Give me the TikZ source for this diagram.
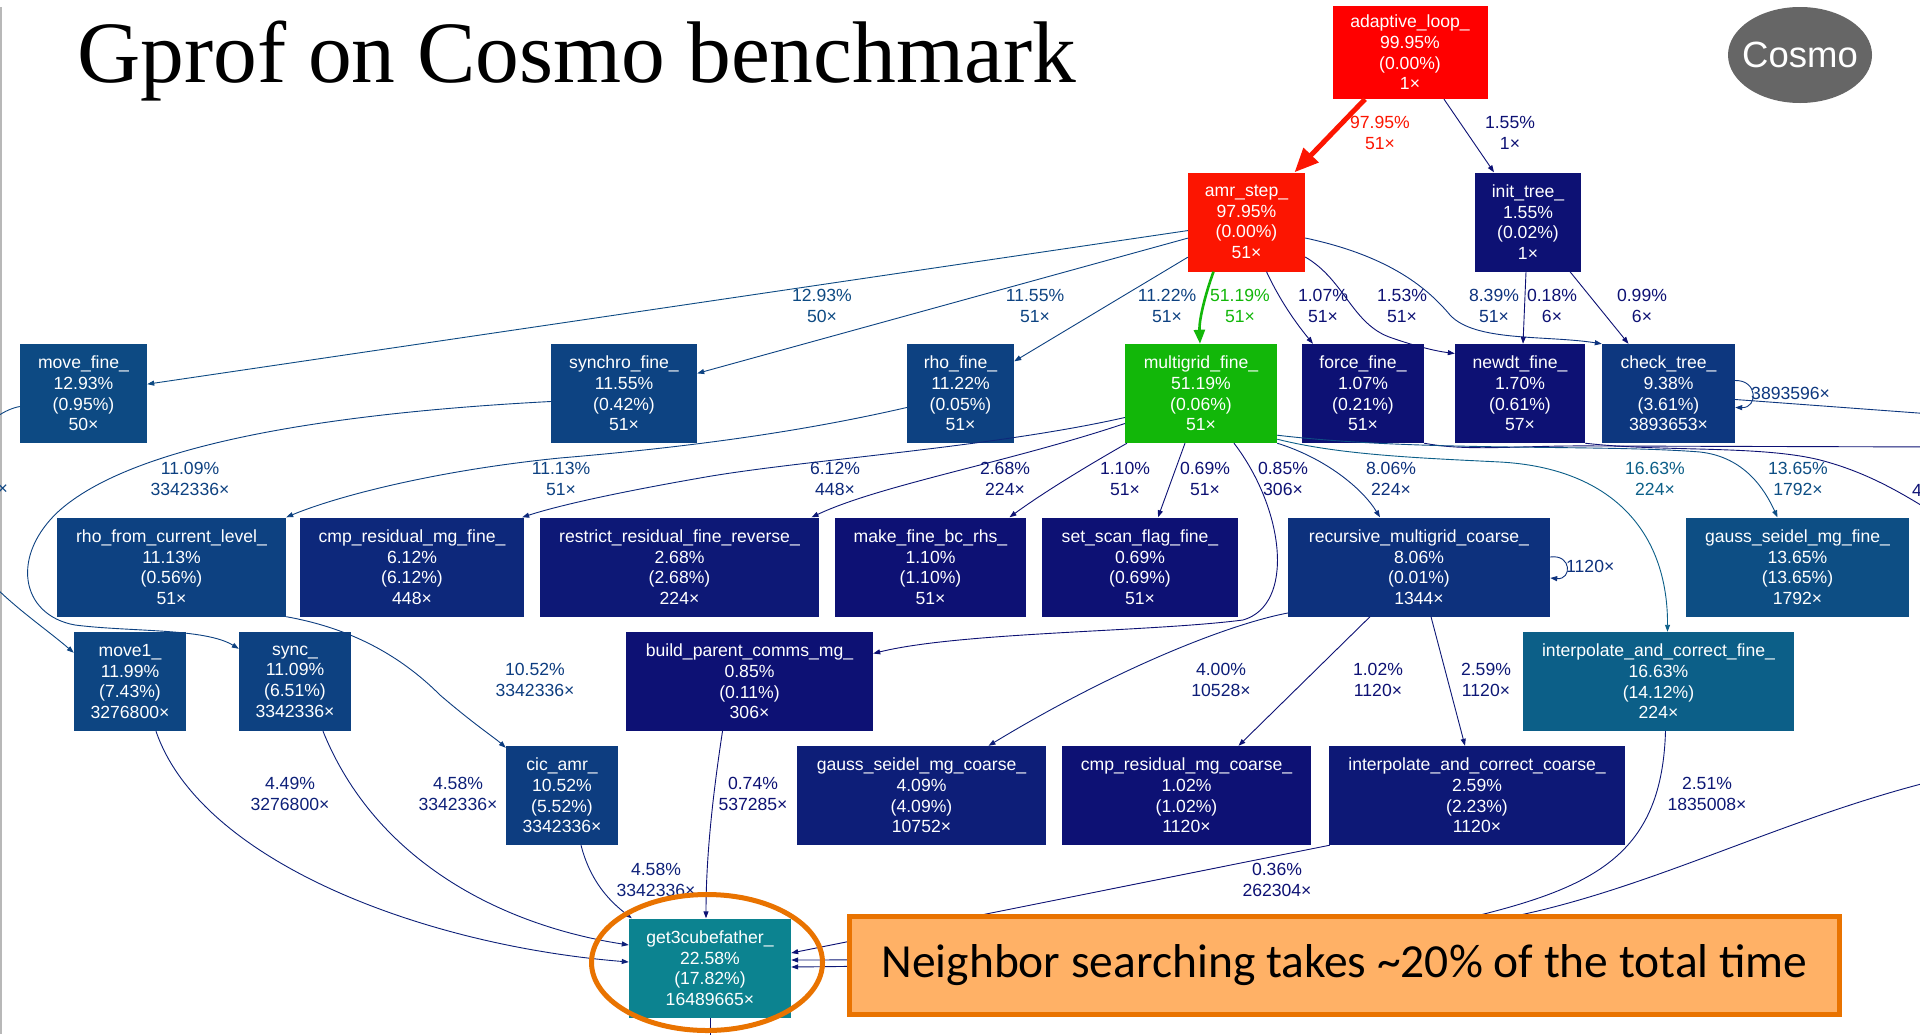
\documentclass[tikz,border=0pt]{standalone}
\usepackage{fontspec}
\setmainfont{Liberation Serif}
\newfontfamily\gvfamily{Liberation Sans}
\newfontfamily\calfamily{Carlito}
\usetikzlibrary{arrows.meta}

\definecolor{cRed}{HTML}{FF0000}
\definecolor{cAmr}{HTML}{FC1501}
\definecolor{cGreen}{HTML}{12B709}
\definecolor{cTeal}{HTML}{0C8390}
\definecolor{cIF}{HTML}{0C5F88}
\definecolor{cGS}{HTML}{0D4E84}
\definecolor{cMF}{HTML}{0D4A83}
\definecolor{cMA}{HTML}{0D4582}
\definecolor{cSF}{HTML}{0D4382}
\definecolor{cRF}{HTML}{0D4181}
\definecolor{cCic}{HTML}{0D3D80}
\definecolor{cCT}{HTML}{0D377F}
\definecolor{cCE}{HTML}{0D337E}
\definecolor{cRec}{HTML}{0D317D}
\definecolor{cCmp}{HTML}{0D287B}
\definecolor{cCF}{HTML}{0D2079}
\definecolor{cCG}{HTML}{0D1E78}
\definecolor{cCH}{HTML}{0D1876}
\definecolor{cLow}{HTML}{0D1174}
\definecolor{orFill}{HTML}{FFB166}
\definecolor{orLine}{HTML}{E97300}
\definecolor{cosmoGray}{HTML}{666666}

\newcommand{\gvfont}{\gvfamily\fontsize{17.6}{20.6}\selectfont}

\begin{document}
\begin{tikzpicture}[x=1pt,y=-1pt,
  fn/.style={rectangle,inner sep=0,minimum height=99,text=white,font=\gvfont,align=center},
  lbl/.style={inner sep=0,font=\gvfont,align=center},
  ln/.style={line width=0.9},
  e/.style={ln,-{Triangle[length=7pt,width=5pt]}},
  hot/.style={line width=5,-{Triangle[length=24pt,width=20pt]}},
  warm/.style={line width=2.6,-{Triangle[length=14pt,width=11pt]}}]
\useasboundingbox (0,0) rectangle (1920,1034);
\fill[white] (0,0) rectangle (1920,1034);
\clip (0,0) rectangle (1920,1034);
\draw[black!28,line width=1.5] (1,7) -- (1,1034);

\node[anchor=base west,inner sep=0,font=\fontsize{87.5}{90}\selectfont] (title) at (77,82) {Gprof on Cosmo benchmark};
\fill[cosmoGray] (1800,55) ellipse [x radius=72,y radius=48];
\node[inner sep=0,text=white,font=\gvfamily\fontsize{36.5}{40}\selectfont] (cosmo) at (1800,55) {Cosmo};

\node[fn,fill=cRed,minimum width=155,minimum height=93] (adaptive) at (1410,52.5) {adaptive\_loop\_\\99.95\%\\(0.00\%)\\1×};
\node[fn,fill=cAmr,minimum width=117] (amr) at (1246.5,222) {amr\_step\_\\97.95\%\\(0.00\%)\\51×};
\node[fn,fill=cLow,minimum width=106] (init) at (1528,222) {init\_tree\_\\1.55\%\\(0.02\%)\\1×};

\node[fn,fill=cMF,minimum width=127] (movefine) at (83.5,393.5) {move\_fine\_\\12.93\%\\(0.95\%)\\50×};
\node[fn,fill=cSF,minimum width=146] (synchro) at (624,393.5) {synchro\_fine\_\\11.55\%\\(0.42\%)\\51×};
\node[fn,fill=cRF,minimum width=107] (rhofine) at (960.5,393.5) {rho\_fine\_\\11.22\%\\(0.05\%)\\51×};
\node[fn,fill=cGreen,minimum width=152] (multigrid) at (1201,393.5) {multigrid\_fine\_\\51.19\%\\(0.06\%)\\51×};
\node[fn,fill=cLow,minimum width=122] (forcefine) at (1363,393.5) {force\_fine\_\\1.07\%\\(0.21\%)\\51×};
\node[fn,fill=cLow,minimum width=130] (newdt) at (1520,393.5) {newdt\_fine\_\\1.70\%\\(0.61\%)\\57×};
\node[fn,fill=cCT,minimum width=133] (checktree) at (1668.5,393.5) {check\_tree\_\\9.38\%\\(3.61\%)\\3893653×};

\node[fn,fill=cRF,minimum width=229] (rhofrom) at (171.5,567) {rho\_from\_current\_level\_\\11.13\%\\(0.56\%)\\51×};
\node[fn,fill=cCmp,minimum width=224] (cmpfine) at (412,567) {cmp\_residual\_mg\_fine\_\\6.12\%\\(6.12\%)\\448×};
\node[fn,fill=cCH,minimum width=279] (restrict) at (679.5,567) {restrict\_residual\_fine\_reverse\_\\2.68\%\\(2.68\%)\\224×};
\node[fn,fill=cLow,minimum width=191] (makebc) at (930.5,567) {make\_fine\_bc\_rhs\_\\1.10\%\\(1.10\%)\\51×};
\node[fn,fill=cLow,minimum width=196] (setscan) at (1140,567) {set\_scan\_flag\_fine\_\\0.69\%\\(0.69\%)\\51×};
\node[fn,fill=cRec,minimum width=262] (recursive) at (1419,567) {recursive\_multigrid\_coarse\_\\8.06\%\\(0.01\%)\\1344×};
\node[fn,fill=cGS,minimum width=223] (gsfine) at (1797.5,567) {gauss\_seidel\_mg\_fine\_\\13.65\%\\(13.65\%)\\1792×};

\node[fn,fill=cMA,minimum width=112] (move1) at (130,681.5) {move1\_\\11.99\%\\(7.43\%)\\3276800×};
\node[fn,fill=cRF,minimum width=112] (sync) at (295,681.5) {sync\_\\11.09\%\\(6.51\%)\\3342336×};
\node[fn,fill=cLow,minimum width=247] (buildparent) at (749.5,681.5) {build\_parent\_comms\_mg\_\\0.85\%\\(0.11\%)\\306×};
\node[fn,fill=cIF,minimum width=271] (interpfine) at (1658.5,681.5) {interpolate\_and\_correct\_fine\_\\16.63\%\\(14.12\%)\\224×};

\node[fn,fill=cCic,minimum width=112] (cic) at (562,795.5) {cic\_amr\_\\10.52\%\\(5.52\%)\\3342336×};
\node[fn,fill=cCG,minimum width=249] (gscoarse) at (921.5,795.5) {gauss\_seidel\_mg\_coarse\_\\4.09\%\\(4.09\%)\\10752×};
\node[fn,fill=cLow,minimum width=249] (cmpcoarse) at (1186.5,795.5) {cmp\_residual\_mg\_coarse\_\\1.02\%\\(1.02\%)\\1120×};
\node[fn,fill=cCH,minimum width=296] (interpcoarse) at (1477,795.5) {interpolate\_and\_correct\_coarse\_\\2.59\%\\(2.23\%)\\1120×};

\node[fn,fill=cTeal,minimum width=162] (get3) at (710,968) {get3cubefather\_\\22.58\%\\(17.82\%)\\16489665×};

\coordinate (ctout) at (1945,415);
\coordinate (ffout) at (1945,447);
\coordinate (ndout) at (1945,520);
\coordinate (rtin) at (1945,778);
\coordinate (g3out) at (710,1045);

\draw[hot,draw=cAmr,fill=cAmr] ([xshift=-45]adaptive.south) -- ([xshift=48]amr.north);
\draw[e,draw=cLow] ([xshift=34]adaptive.south) -- ([xshift=-34]init.north);

\draw[e,draw=cMF] (amr) -- (movefine);
\draw[e,draw=cSF] (amr) -- (synchro);
\draw[e,draw=cRF] (amr) -- (rhofine);
\draw[warm,draw=cGreen] ([xshift=-33]amr.south) .. controls (1205,295) and (1199,320) .. ([xshift=-1]multigrid.north);
\draw[e,draw=cLow] ([xshift=20]amr.south) .. controls (1282,305) and (1300,328) .. ([xshift=-50]forcefine.north);
\draw[e,draw=cLow] ([yshift=-35]amr.east) .. controls (1345,280) and (1352,325) .. (1392,338)
   .. controls (1415,346) and (1435,351) .. ([yshift=40]newdt.west);
\draw[e,draw=cCE] ([yshift=-16]amr.east) .. controls (1385,255) and (1425,285) .. (1450,315)
   .. controls (1475,342) and (1545,335) .. (checktree.north west);
\draw[e,draw=cLow] ([xshift=-2]init.south) -- ([xshift=3]newdt.north);
\draw[e,draw=cLow] ([xshift=42]init.south) -- ([xshift=-40]checktree.north);

\draw[e,draw=cCT] ([yshift=13]checktree.east) .. controls (1758,380) and (1758,408) .. ([yshift=-14]checktree.east);
\draw[ln,draw=cCT] ([yshift=-6]checktree.east) -- (ctout);
\draw[ln,draw=cLow] (forcefine.south east) .. controls (1470,452) and (1520,445) .. (1600,446) -- (ffout);
\draw[ln,draw=cLow] (newdt.south east) .. controls (1660,452) and (1760,445) .. (1820,460)
   .. controls (1870,473) and (1905,495) .. (ndout);

\draw[e,draw=cMA] ([yshift=-13]movefine.west) .. controls (-10,412) and (-45,450) .. (-45,510)
   .. controls (-45,570) and (30,615) .. ([yshift=-21]move1.north west);
\draw[e,draw=cRF] ([yshift=-8]synchro.west) .. controls (350,412) and (140,440) .. (60,510)
   .. controls (10,555) and (20,615) .. (75,625) .. controls (130,632) and (205,628) .. ([yshift=-17]sync.north west);
\draw[e,draw=cRF] ([yshift=-14]rhofine.west) .. controls (800,432) and (690,447) .. (560,458)
   .. controls (440,470) and (340,495) .. (rhofrom.north east);

\draw[e,draw=cCmp] ([yshift=-24]multigrid.west) .. controls (990,448) and (800,460) .. (700,478)
   .. controls (620,492) and (560,505) .. ([xshift=-2]cmpfine.north east);
\draw[e,draw=cCH] ([yshift=-30]multigrid.west) .. controls (1010,462) and (880,485) .. ([xshift=132]restrict.north);
\draw[e,draw=cLow] ([xshift=-74]multigrid.south) .. controls (1080,470) and (1040,495) .. ([xshift=79]makebc.north);
\draw[e,draw=cLow] ([xshift=-16]multigrid.south) -- ([xshift=18]setscan.north);
\draw[e,draw=cLow] ([xshift=33]multigrid.south) .. controls (1285,510) and (1295,605) .. (1243,620)
   .. controls (1150,632) and (960,632) .. ([yshift=28]buildparent.east);
\draw[e,draw=cRec] (multigrid.south east) .. controls (1325,458) and (1362,488) .. ([xshift=-39]recursive.north);
\draw[e,draw=cIF] ([yshift=4]multigrid.south east) .. controls (1340,455) and (1420,458) .. (1500,462)
   .. controls (1610,468) and (1668,530) .. ([xshift=9]interpfine.north);
\draw[e,draw=cGS] ([yshift=8]multigrid.south east) .. controls (1420,452) and (1600,444) .. (1700,452)
   .. controls (1745,457) and (1765,490) .. ([xshift=-20]gsfine.north);

\draw[e,draw=cRec] ([yshift=10]recursive.east) .. controls (1572,554) and (1572,580) .. ([yshift=-11]recursive.east);
\draw[e,draw=cCG] ([yshift=-46]recursive.west) .. controls (1225,625) and (1110,672) .. ([xshift=67]gscoarse.north);
\draw[e,draw=cLow] ([xshift=-49]recursive.south) -- ([xshift=52]cmpcoarse.north);
\draw[e,draw=cCH] ([xshift=12]recursive.south) -- ([xshift=-12]interpcoarse.north);

\draw[e,draw=cCic] (rhofrom.south east) .. controls (350,628) and (400,655) .. (440,695)
   .. controls (475,725) and (495,738) .. ([yshift=-2]cic.north west);
\draw[e,draw=cCF] ([xshift=26]move1.south) .. controls (200,860) and (420,945) .. ([yshift=6]get3.west);
\draw[e,draw=cCF] ([xshift=28]sync.south) .. controls (375,860) and (500,925) .. ([yshift=23]get3.west);
\draw[e,draw=cCF] ([xshift=19]cic.south) .. controls (590,880) and (608,900) .. ([xshift=3]get3.north west);
\draw[e,draw=cLow] ([xshift=-27]buildparent.south) .. controls (712,800) and (706,860) .. ([xshift=-4]get3.north);
\draw[e,draw=cLow] ([xshift=1]interpcoarse.south west) -- ([yshift=15]get3.east);
\draw[e,draw=cCH] ([xshift=7]interpfine.south) .. controls (1662,850) and (1600,885) .. (1480,915)
   .. controls (1300,958) and (900,960) .. ([yshift=8]get3.east);
\draw[e,draw=cCH] (rtin) .. controls (1790,815) and (1660,885) .. (1520,915)
   .. controls (1300,962) and (900,966) .. ([yshift=1]get3.east);
\draw[ln,draw=cLow] (get3.south) -- (g3out);

\foreach \nm/\px/\py/\col/\txt in {%
  l1/1380/133/cAmr/97.95\%\\51×, l2/1510/133/cLow/1.55\%\\1×,
  l3/822/306/cMF/12.93\%\\50×, l4/1035/306/cSF/11.55\%\\51×,
  l5/1167/306/cRF/11.22\%\\51×, l6/1240/306/cGreen/51.19\%\\51×,
  l7/1323/306/cLow/1.07\%\\51×, l8/1402/306/cLow/1.53\%\\51×,
  l9/1494/306/cCE/8.39\%\\51×, l10/1552/306/cLow/0.18\%\\6×,
  l11/1642/306/cLow/0.99\%\\6×,
  l12/190/479/cRF/11.09\%\\3342336×, l13/561/479/cRF/11.13\%\\51×,
  l14/835/479/cCmp/6.12\%\\448×, l15/1005/479/cCH/2.68\%\\224×,
  l16/1125/479/cLow/1.10\%\\51×, l17/1205/479/cLow/0.69\%\\51×,
  l18/1283/479/cLow/0.85\%\\306×, l19/1391/479/cRec/8.06\%\\224×,
  l20/1655/479/cIF/16.63\%\\224×, l21/1798/479/cGS/13.65\%\\1792×,
  l22/535/680/cCic/10.52\%\\3342336×, l23/1221/680/cCG/4.00\%\\10528×,
  l24/1378/680/cLow/1.02\%\\1120×, l25/1486/680/cCH/2.59\%\\1120×,
  l26/290/794/cCF/4.49\%\\3276800×, l27/458/794/cCF/4.58\%\\3342336×,
  l28/753/794/cLow/0.74\%\\537285×, l29/1707/794/cCH/2.51\%\\1835008×,
  l30/656/880/cCF/4.58\%\\3342336×, l31/1277/880/cLow/0.36\%\\262304×} {
  \node[lbl,text=\col] (\nm) at (\px,\py) {\txt};
}
\node[lbl,text=cCT,anchor=west] (l32) at (1751,393) {3893596×};
\node[lbl,text=cRec,anchor=west] (l33) at (1566,566) {1120×};
\node[lbl,text=cMA,anchor=east] (l34) at (8,490) {×};
\node[lbl,text=cLow,anchor=west] (l35) at (1912,490) {4};

\node[draw=orLine,line width=5,fill=orFill,minimum width=990,minimum height=98,inner sep=0,
  font=\calfamily\fontsize{47.5}{50}\selectfont] (note) at (1344.5,965.5)
  {Neighbor searching takes \textasciitilde 20\% of the total time};
\draw[orLine,line width=5] (707,962.5) ellipse [x radius=115.5,y radius=68];
\end{tikzpicture}
\end{document}
